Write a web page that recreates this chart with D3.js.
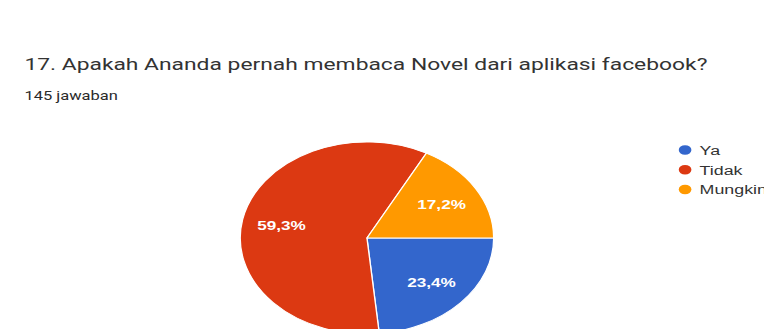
<!DOCTYPE html>
<html>
<head>
<meta charset="utf-8">
<script src="https://cdn.jsdelivr.net/npm/d3@7"></script>
<style>
  html, body { margin: 0; padding: 0; background: #ffffff; overflow: hidden; }
</style>
</head>
<body>
<script>
// Data

const title = "17. Apakah Ananda pernah membaca Novel dari aplikasi facebook?";
const subtitle = "145 jawaban";
const categories = ["Ya", "Tidak", "Mungkin"];
const counts = [34, 86, 25];
const colors = ["#3366cc", "#dc3912", "#ff9900"];

// Dimensions - the reference is stretched sideways, so draw in a narrower viewBox

const width = 764, height = 329;
const stretch = 1.32;
const vbWidth = width / stretch;

const svg = d3.select("body")
  .append("svg")
  .attr("width", width)
  .attr("height", height)
  .attr("viewBox", `0 0 ${vbWidth} ${height}`)
  .attr("preserveAspectRatio", "none");

// Title

svg.append("text")
  .attr("x", 18.5)
  .attr("y", 70)
  .attr("font-family", "Roboto, 'Open Sans', sans-serif")
  .attr("font-size", 17.3)
  .attr("fill", "#333")
  .text(title);

svg.append("text")
  .attr("x", 18.5)
  .attr("y", 100)
  .attr("font-family", "Roboto, 'Open Sans', sans-serif")
  .attr("font-size", 12.5)
  .attr("fill", "#2a2a2a")
  .text(subtitle);

// Pie

const cx = 278, cy = 238, radius = 96;
const total = d3.sum(counts);
const pct = d3.formatLocale({decimal: ",", thousands: ".", grouping: [3], currency: ["", ""]}).format(".1%");

const pie = d3.pie()
  .sort(null)
  .startAngle(Math.PI / 2)
  .endAngle(Math.PI / 2 + 2 * Math.PI)
  .value(d => d);

const arcs = pie(counts);

const arc = d3.arc().innerRadius(0).outerRadius(radius);
const labelArc = d3.arc().innerRadius(66).outerRadius(66);

const g = svg.append("g")
  .attr("transform", `translate(${cx},${cy})`);

g.selectAll("path")
  .data(arcs)
  .join("path")
  .attr("d", arc)
  .attr("fill", (d, i) => colors[i])
  .attr("stroke", "#ffffff")
  .attr("stroke-width", 1);

g.selectAll("text")
  .data(arcs)
  .join("text")
  .attr("transform", d => `translate(${labelArc.centroid(d)})`)
  .attr("text-anchor", "middle")
  .attr("dy", "0.36em")
  .attr("font-family", "Arial, 'Liberation Sans', sans-serif")
  .attr("font-size", 13)
  .attr("font-weight", "bold")
  .attr("fill", "#ffffff")
  .text(d => pct(d.value / total));

// Legend (the last entry runs off the right edge, as in the reference)

const legendY = d3.scalePoint()
  .domain(categories)
  .range([150, 189.5]);

const legend = svg.append("g");

legend.selectAll("circle")
  .data(categories)
  .join("circle")
  .attr("cx", 519)
  .attr("cy", d => legendY(d))
  .attr("r", 4.8)
  .attr("fill", (d, i) => colors[i]);

legend.selectAll("text")
  .data(categories)
  .join("text")
  .attr("x", 530)
  .attr("y", d => legendY(d))
  .attr("dy", "0.36em")
  .attr("font-family", "Arial, 'Liberation Sans', sans-serif")
  .attr("font-size", 13.5)
  .attr("fill", "#333")
  .text(d => d);
</script>
</body>
</html>
